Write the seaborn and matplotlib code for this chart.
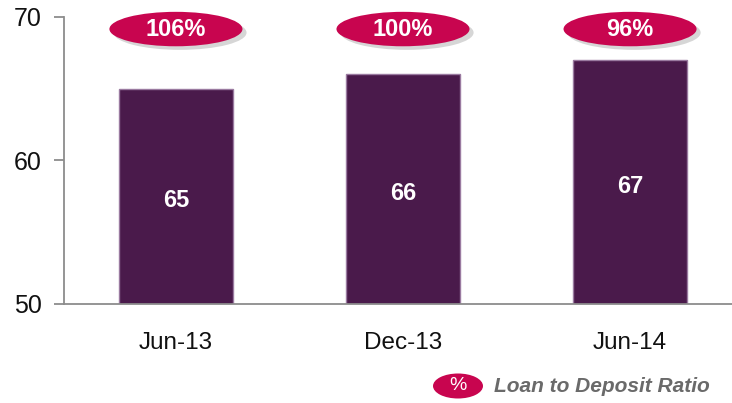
import matplotlib
matplotlib.use("Agg")
import matplotlib.pyplot as plt
import seaborn as sns
import pandas as pd
from matplotlib.patches import Ellipse

periods = ["Jun-13", "Dec-13", "Jun-14"]
deposits = [65, 66, 67]
ltd_ratio = ["106%", "100%", "96%"]
legend_label = "Loan to Deposit Ratio"

df = pd.DataFrame({"period": periods, "value": deposits})

sns.set_style("white")
plt.rcParams["font.family"] = ["Liberation Sans", "DejaVu Sans"]

fig = plt.figure(figsize=(7.32, 4.03), dpi=100)
ax = fig.add_axes([64 / 732, 1 - 304 / 403, 1 - 64 / 732, (304 - 17) / 403])

sns.barplot(data=df, x="period", y="value", color="#4a1a4b", width=0.5,
            edgecolor="#9a7aa0", linewidth=1.0, saturation=1, ax=ax)

ax.set_ylim(50, 70)
ax.set_xlim(-0.493, 2.449)
ax.set_yticks([50, 60, 70])
ax.set_xlabel("")
ax.set_ylabel("")
for s in ["top", "right"]:
    ax.spines[s].set_visible(False)
for s in ["left", "bottom"]:
    ax.spines[s].set_color("#8c8c8c")
    ax.spines[s].set_linewidth(1.3)
ax.tick_params(axis="y", left=True, length=7, width=1.3, color="#8c8c8c",
               labelsize=18, pad=9, labelcolor="#111111")
ax.tick_params(axis="x", bottom=False, labelsize=17.5, pad=17, labelcolor="#111111")

# value labels inside bars
for i, v in enumerate(deposits):
    ax.text(i, (50 + v) / 2 - 0.3, str(v), ha="center", va="center", color="white",
            fontsize=17, fontweight="bold")

# ratio ellipses above bars
ew, eh, ey = 0.586, 2.4, 69.16
for i, r in enumerate(ltd_ratio):
    sh = Ellipse((i + 0.018, ey - 0.25), ew, eh, facecolor="#9a9a9a", alpha=0.4,
                 edgecolor="none", clip_on=False, zorder=4)
    ax.add_patch(sh)
    el = Ellipse((i, ey), ew, eh, facecolor="#c8054f", edgecolor="none",
                 clip_on=False, zorder=5)
    ax.add_patch(el)
    ax.text(i, ey, r, ha="center", va="center", color="white", fontsize=17,
            fontweight="bold", zorder=6, clip_on=False)

# legend
lx, ly = 458 / 732, 1 - 386 / 403
leg = Ellipse((lx, ly), 50 / 732, 25 / 403, transform=fig.transFigure,
              facecolor="#c8054f", edgecolor="none")
fig.patches.append(leg)
fig.text(lx, ly, "%", ha="center", va="center", color="white", fontsize=14)
fig.text(494 / 732, ly, legend_label, ha="left", va="center", color="#6a6a6a",
         fontsize=15, fontweight="bold", fontstyle="italic")

fig.savefig("out.png", dpi=100)
